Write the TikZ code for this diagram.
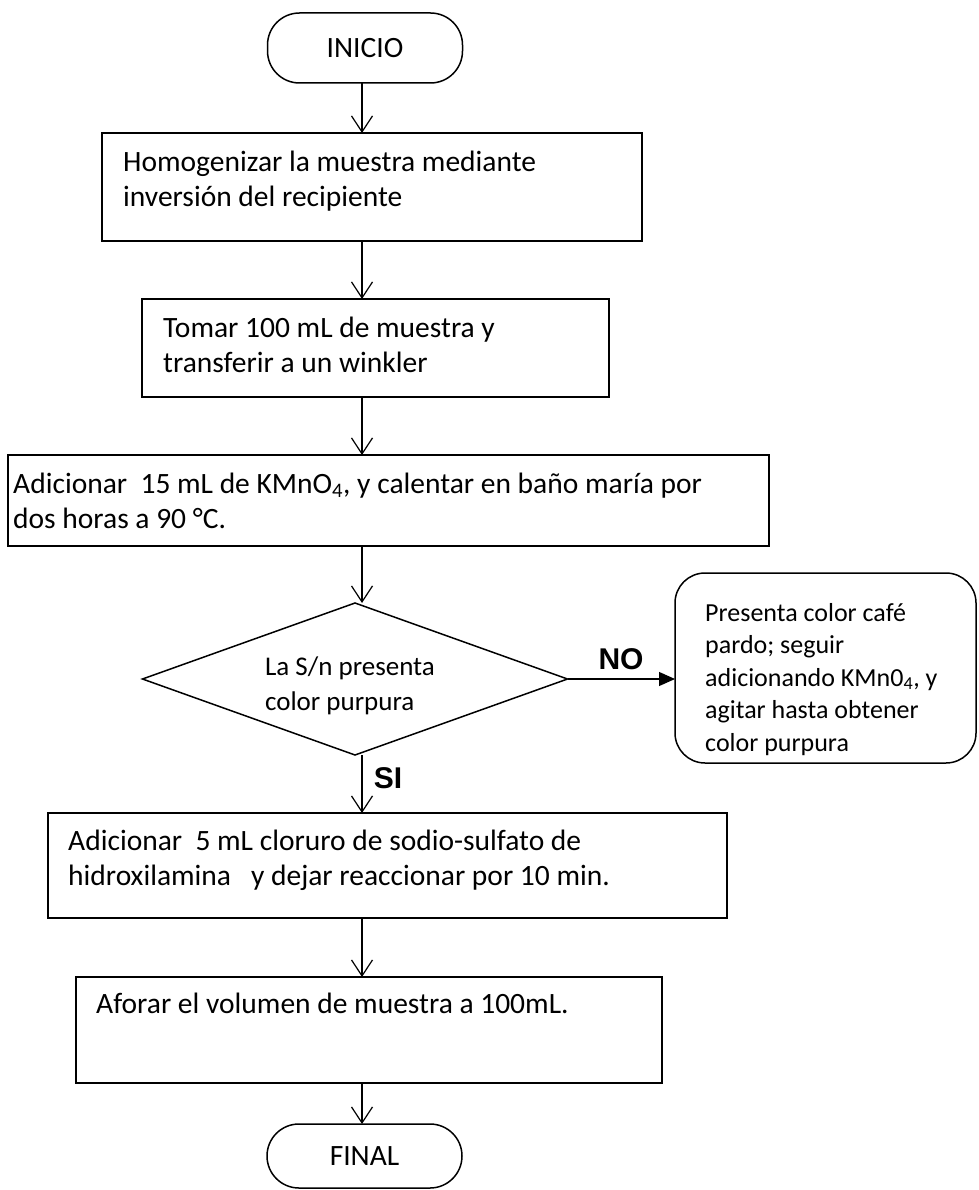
\documentclass[tikz,border=0pt]{standalone}
\usepackage{fontspec}
\setmainfont{Carlito}
\newfontfamily\labelfont{Liberation Sans}
\usetikzlibrary{arrows.meta,shapes.geometric,calc}

\tikzset{
  frame/.style={draw=black, line width=1.5pt, inner sep=0pt, outer sep=0pt, anchor=north west},
  terminal/.style={draw=black, line width=1.5pt, rounded corners=32pt, inner sep=0pt, outer sep=0pt,
    minimum width=195pt, font=\fontsize{29.5}{34}\selectfont},
  % anchored at the baseline of the last line of the text
  stepline/.style={anchor=base west, inner sep=0pt, align=left, font=\fontsize{29.5}{35.5}\selectfont},
  flow/.style={line width=1.2pt, -{Straight Barb[length=16pt,width=21pt]}},
  branch/.style={line width=1.2pt, -{Triangle[length=16pt,width=14pt]}},
  tag/.style={font=\labelfont\bfseries\fontsize{30}{34}\selectfont, inner sep=0pt, anchor=base},
}

\begin{document}
\begin{tikzpicture}[x=1pt,y=-1pt]
\useasboundingbox (0,0) rectangle (978,1190);
\coordinate (spine) at (362,0);

% terminals
\node[terminal, minimum height=70pt] (start) at (365,48) {INICIO};
\node[terminal, minimum height=64pt] (stop) at (364.5,1156) {FINAL};

% process boxes
\node[frame, minimum width=540pt, minimum height=108pt] (b1) at (102,133) {};
\node[stepline] (t1) at (123,207) {Homogenizar la muestra mediante\\inversión del recipiente};

\node[frame, minimum width=467pt, minimum height=98pt] (b2) at (142,299) {};
\node[stepline] (t2) at (163,372.5) {Tomar 100 mL de muestra y\\transferir a un winkler};

\node[frame, minimum width=761pt, minimum height=91pt] (b3) at (8,455) {};
\node[stepline] (t3) at (13,528.5) {Adicionar\ \ 15 mL de KMnO\textsubscript{4}, y calentar en baño maría por\\dos horas a 90 °C.};

% decision
\node[draw=black, diamond, line width=1.5pt, inner sep=0pt, outer sep=0pt,
  minimum width=425pt, minimum height=152pt] (dec) at (355,679) {};
\node[inner sep=0pt, align=left, font=\fontsize{27}{35}\selectfont] (dtext) at (350,686)
  {La S/n presenta\\color purpura};

% alternative branch
\node[frame, rounded corners=30pt, minimum width=301pt, minimum height=190pt] (alt) at (675,573) {};
\node[anchor=base west, inner sep=0pt, align=left, font=\fontsize{26}{32.5}\selectfont] (alttext) at (705,751)
  {Presenta color café\\pardo; seguir\\adicionando KMn0\textsubscript{4}, y\\agitar hasta obtener\\color purpura};

\node[frame, minimum width=679pt, minimum height=105pt] (b4) at (48,813) {};
\node[stepline] (t4) at (68,885.5) {Adicionar\ \ 5 mL cloruro de sodio-sulfato de\\hidroxilamina\ \ \ y dejar reaccionar por 10 min.};

\node[frame, minimum width=586pt, minimum height=106pt] (b5) at (76,977) {};
\node[stepline] (t5) at (96,1013) {Aforar el volumen de muestra a 100mL.};

% connectors
\draw[flow] (spine |- start.south) -- (spine |- b1.north);
\draw[flow] (spine |- b1.south) -- (spine |- b2.north);
\draw[flow] (spine |- b2.south) -- (spine |- b3.north);
\draw[flow] (spine |- b3.south) -- (spine |- dec.north);
\draw[flow] (spine |- dec.south) -- (spine |- b4.north);
\draw[flow] (spine |- b4.south) -- (spine |- b5.north);
\draw[flow] (spine |- b5.south) -- (spine |- stop.north);
\draw[branch] (dec.east) -- (dec.east -| alt.west);

% branch labels
\node[tag] (no) at (621,669) {NO};
\node[tag] (si) at (388,788) {SI};
\end{tikzpicture}
\end{document}
